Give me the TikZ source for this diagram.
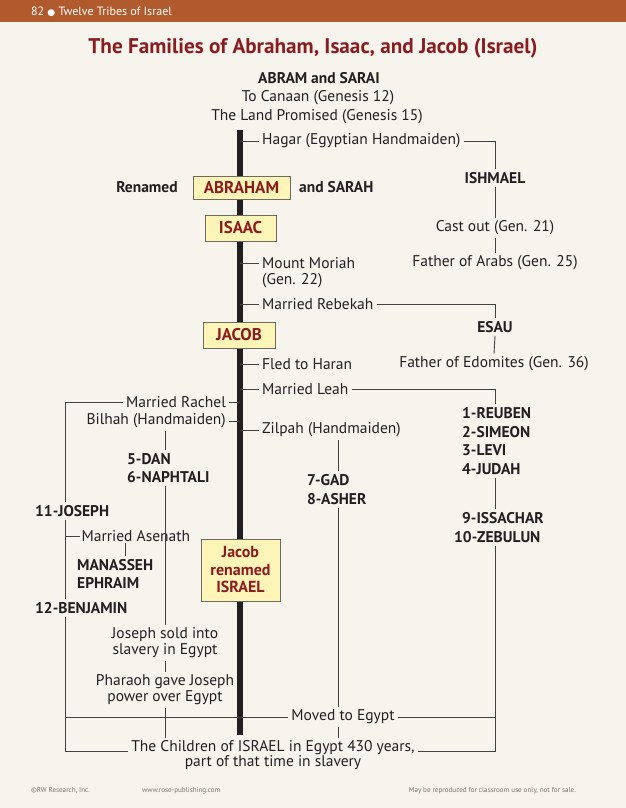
\documentclass[tikz,border=0pt]{standalone}
\usepackage{fontspec}
\setmainfont{PT Sans}
\newfontfamily\dejavu{DejaVu Sans}
\definecolor{bg}{HTML}{F7F4EE}
\definecolor{hdr}{HTML}{B05A2E}
\definecolor{tred}{HTML}{8A1C20}
\definecolor{ink}{HTML}{231F20}
\definecolor{boxfill}{HTML}{FDF5B8}
\definecolor{boxline}{HTML}{6E6A60}
\definecolor{foot}{HTML}{77726C}
\begin{document}
\begin{tikzpicture}[x=1pt,y=-1pt,
  txt/.style={font=\fontsize{15.5}{17}\selectfont, text=ink, inner sep=3pt},
  bld/.style={font=\fontsize{15.5}{17}\selectfont\bfseries, text=ink, inner sep=3pt},
  namebox/.style={draw=boxline, line width=0.8pt, fill=boxfill, text=tred,
    font=\fontsize{17}{19}\selectfont\bfseries, inner sep=0pt, align=center},
  thin/.style={draw=ink!85, line width=0.9pt},
  trunk/.style={draw=ink, line width=6pt},
  footer/.style={font=\fontsize{7.1}{8}\selectfont, text=foot, inner sep=0pt, anchor=west}]
\useasboundingbox (0,0) rectangle (626,808);
\fill[bg] (0,0) rectangle (626,808);
\fill[hdr] (0,0) rectangle (626,22);
\node[anchor=west, text=white, inner sep=0pt, font=\fontsize{12}{13}\selectfont] (hdrtxt) at (31,11.5) {82 {\dejavu\fontsize{9}{10}\selectfont ●} Twelve Tribes of Israel};
\node[text=tred, font=\fontsize{21.2}{24}\selectfont\bfseries, inner sep=0pt] (title) at (313,48) {The Families of Abraham, Isaac, and Jacob (Israel)};

% coordinates
\coordinate (ttop) at (240,130);
\coordinate (tbot) at (240,735);
\coordinate (rc) at (495,0);
\coordinate (lc) at (65,0);
\coordinate (bx) at (165,0);
\coordinate (zx) at (338,0);
\coordinate (mx) at (125,0);

\draw[trunk] (ttop) -- (tbot);

\node[bld] (abram) at (319,78) {ABRAM and SARAI};
\node[txt] (canaan) at (318,98) {To Canaan (Genesis 12)};
\node[txt] (land) at (317,117) {The Land Promised (Genesis 15)};

\node[txt, anchor=west] (hagar) at (259,141) {Hagar (Egyptian Handmaiden)};
\node[bld] (ishmael) at (495,178) {ISHMAEL};
\node[txt] (castout) at (495,228) {Cast out (Gen. 21)};
\node[txt] (arabs) at (495,263) {Father of Arabs (Gen. 25)};

\node[bld] (renamed) at (147,187) {Renamed};
\node[namebox, minimum width=97pt, minimum height=23pt] (abraham) at (241.5,187.5) {ABRAHAM};
\node[bld, anchor=west] (sarah) at (296,187) {and SARAH};
\node[namebox, minimum width=71pt, minimum height=26pt] (isaac) at (240.5,228) {ISAAC};

\node[txt, anchor=west] (moriah) at (259,263) {Mount Moriah};
\node[txt, anchor=west] (moriah2) at (259,281) {(Gen. 22)};
\node[txt, anchor=west] (rebekah) at (259,304) {Married Rebekah};
\node[bld] (esau) at (495,327) {ESAU};
\node[txt] (edomites) at (494,364) {Father of Edomites (Gen. 36)};
\node[namebox, minimum width=72pt, minimum height=26pt] (jacob) at (239,335) {JACOB};
\node[txt, anchor=west] (haran) at (259,364) {Fled to Haran};
\node[txt, anchor=west] (leah) at (259,389) {Married Leah};

\node[txt, anchor=east] (rachel) at (229,402) {Married Rachel};
\node[txt, anchor=east] (bilhah) at (229,421) {Bilhah (Handmaiden)};
\node[txt, anchor=west] (zilpah) at (259,430) {Zilpah (Handmaiden)};

\node[bld, anchor=west] (dan) at (124,459) {5-DAN};
\node[bld, anchor=west] (naphtali) at (124,477) {6-NAPHTALI};
\node[bld, anchor=west] (gad) at (304,480) {7-GAD};
\node[bld, anchor=west] (asher) at (304,499) {8-ASHER};

\node[bld, anchor=west] (reuben) at (459,413) {1-REUBEN};
\node[bld, anchor=west] (simeon) at (459,432) {2-SIMEON};
\node[bld, anchor=west] (levi) at (459,450) {3-LEVI};
\node[bld, anchor=west] (judah) at (459,469) {4-JUDAH};
\node[bld, anchor=west] (issachar) at (459,518) {9-ISSACHAR};
\node[bld, anchor=west] (zebulun) at (451,537) {10-ZEBULUN};

\node[bld, anchor=west] (joseph) at (32,511) {11-JOSEPH};
\node[txt, anchor=west, inner sep=1.5pt] (asenath) at (80,536) {Married Asenath};
\node[bld, anchor=west] (manasseh) at (74,565) {MANASSEH};
\node[bld, anchor=west] (ephraim) at (74,583) {EPHRAIM};
\node[bld, anchor=west] (benjamin) at (32,608) {12-BENJAMIN};

\node[namebox, minimum width=79pt, minimum height=62pt, font=\fontsize{16}{17.5}\selectfont\bfseries] (israel) at (240.5,570) {Jacob\\renamed\\ISRAEL};

\node[txt, align=center, font=\fontsize{15.5}{16}\selectfont] (sold) at (165,643) {Joseph sold into\\slavery in Egypt};
\node[txt, align=center, font=\fontsize{15.5}{16}\selectfont] (pharaoh) at (165,690) {Pharaoh gave Joseph\\power over Egypt};
\node[txt] (moved) at (343,717) {Moved to Egypt};
\node[txt] (child1) at (273,748) {The Children of ISRAEL in Egypt 430 years,};
\node[txt] (child2) at (273,763) {part of that time in slavery};

% connectors
\draw[thin] (hagar.west -| ttop) -- (hagar.west);
\draw[thin] (hagar.east) -| (ishmael.north);
\draw[thin] (ishmael.south) -- (castout.north);
\draw[thin] (castout.south) -- (arabs.north);
\draw[thin] (moriah.west -| ttop) -- (moriah.west);
\draw[thin] (rebekah.west -| ttop) -- (rebekah.west);
\draw[thin] (rebekah.east) -| (esau.north);
\draw[thin] (esau.south) -- (edomites.north);
\draw[thin] (haran.west -| ttop) -- (haran.west);
\draw[thin] (leah.west -| ttop) -- (leah.west);
\draw[thin] (leah.east) -| (reuben.north -| rc);
\draw[thin] (judah.south -| rc) -- (issachar.north -| rc);
\draw[thin] (zebulun.south -| rc) -- (child1.base -| rc) -- (child1.base east);
\draw[thin] (moved.east) -- (moved.east -| rc);
\draw[thin] (moved.west) -- (moved.west -| lc);

\draw[thin] (rachel.east) -- (rachel.east -| ttop);
\draw[thin] (bilhah.east) -- (bilhah.east -| ttop);
\draw[thin] (zilpah.west -| ttop) -- (zilpah.west);
\draw[thin] (rachel.west) -| (joseph.north -| lc);
\draw[thin] (joseph.south -| lc) -- (benjamin.north -| lc);
\draw[thin] (asenath.west) -- (asenath.west -| lc);
\draw[thin] (asenath.south -| mx) -- (manasseh.north -| mx);
\draw[thin] (benjamin.south -| lc) -- (child1.base -| lc) -- (child1.base west);

\draw[thin] (bilhah.south -| bx) -- (dan.north -| bx);
\draw[thin] (naphtali.south -| bx) -- (sold.north);
\draw[thin] (sold.south) -- (pharaoh.north);
\draw[thin] (pharaoh.south) -- (child1.north -| pharaoh.south);

\draw[thin] (zilpah.south -| zx) -- (gad.north -| zx);
\draw[thin] (asher.south -| zx) -- (moved.north -| zx);
\draw[thin] (moved.south -| zx) -- (child1.north -| zx);

% footer
\node[footer] (f1) at (31,791) {©RW Research, Inc.};
\node[footer] (f2) at (142,791) {www.rose-publishing.com};
\node[footer, anchor=east] (f3) at (576,791) {May be reproduced for classroom use only, not for sale.};
\end{tikzpicture}
\end{document}
